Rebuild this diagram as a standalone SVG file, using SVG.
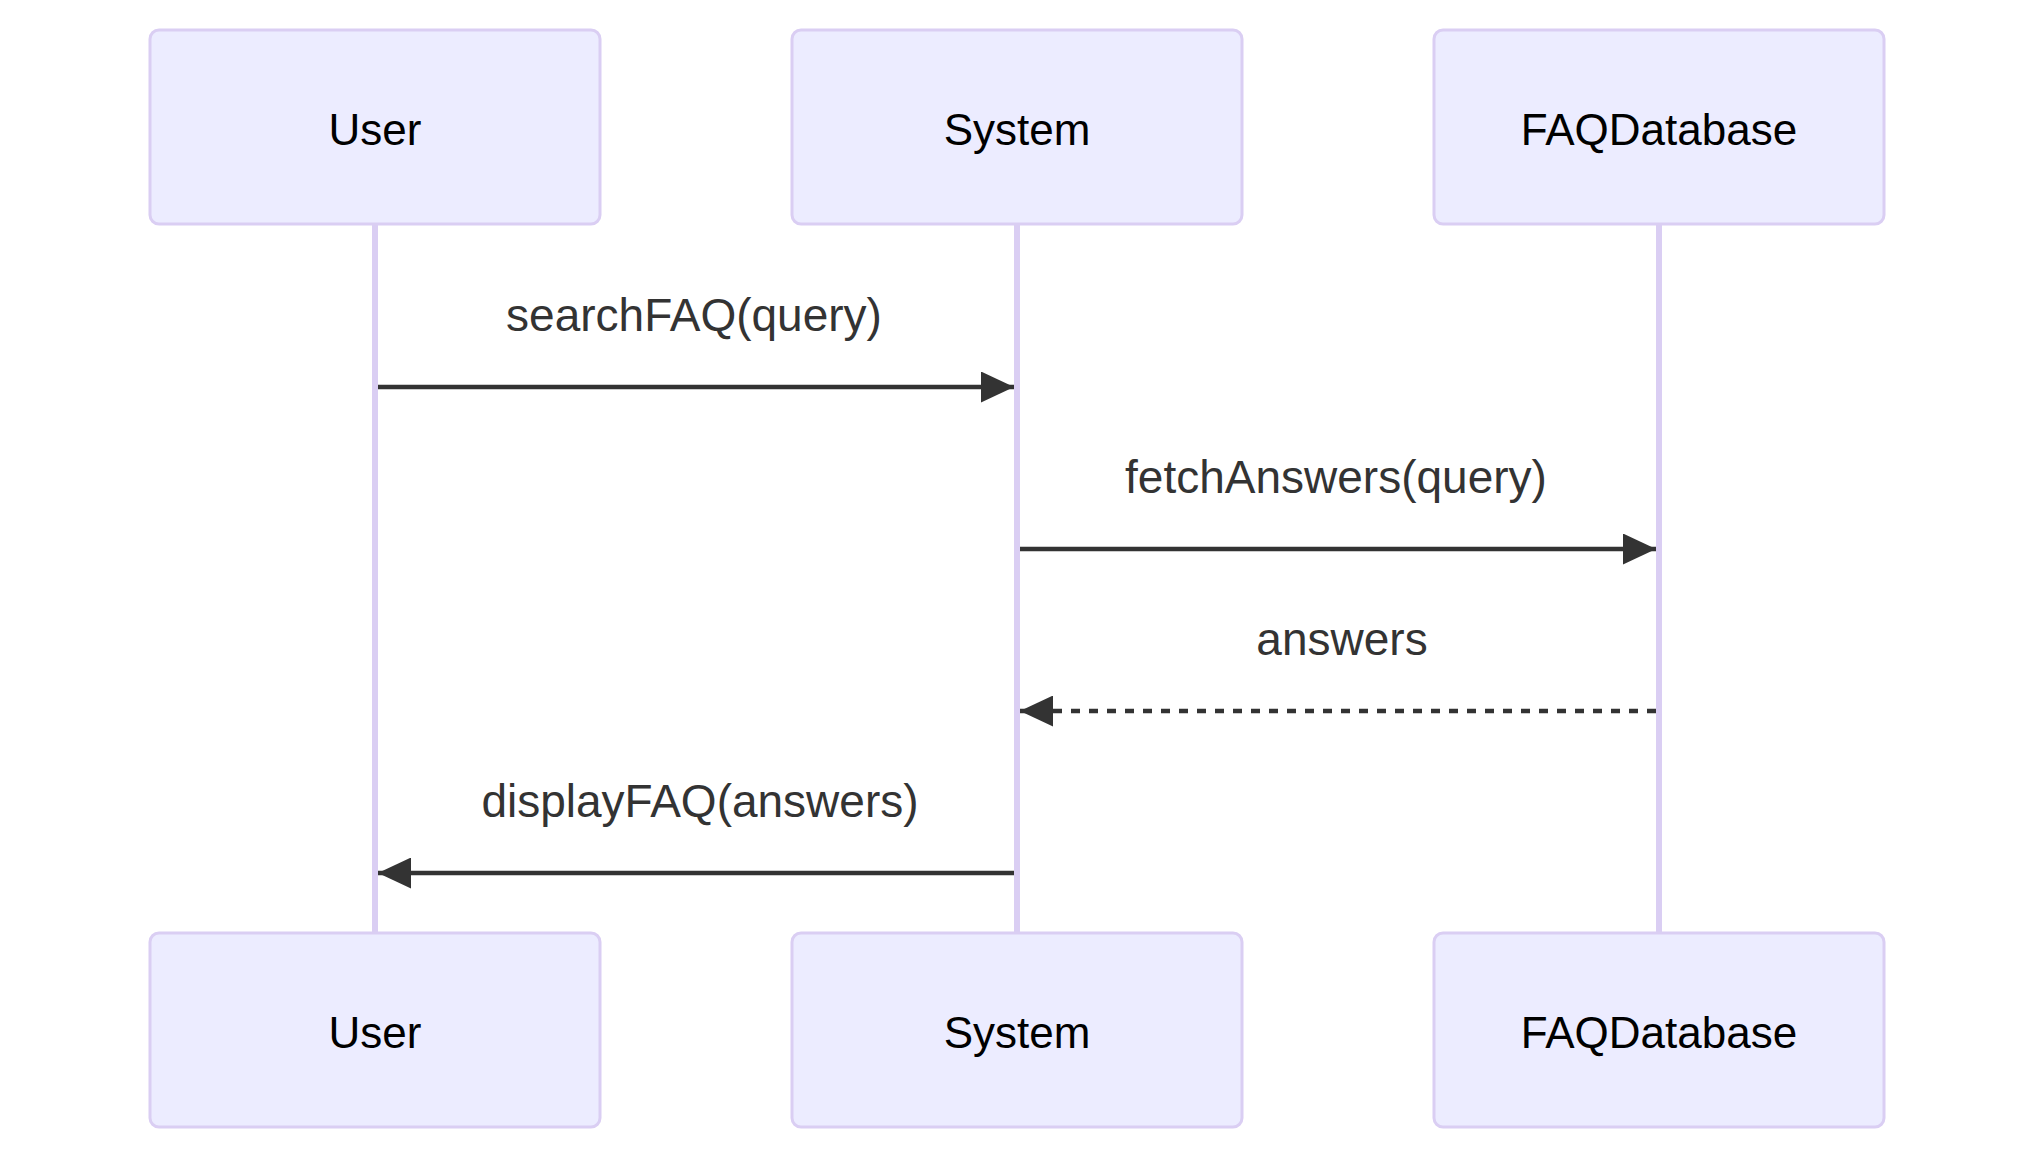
<svg xmlns="http://www.w3.org/2000/svg" width="2034" height="1161" viewBox="0 0 2034 1161">
<style>
.actor rect{fill:#ECECFF;stroke:#DACEF3;stroke-width:3}
.actor text{font-family:"Trebuchet MS","Liberation Sans",Arial,sans-serif;font-size:44px;fill:#000;text-anchor:middle}
.lifeline{stroke:#DACEF3;stroke-width:6}
.msg{stroke:#333;stroke-width:4.5;fill:none;marker-end:url(#arrow)}
.dashed{stroke-dasharray:9 9}
.label{font-family:"Trebuchet MS","Liberation Sans",Arial,sans-serif;font-size:46px;fill:#333;text-anchor:middle}
</style>
<defs>
<marker id="arrow" markerUnits="userSpaceOnUse" viewBox="0 0 33 31" refX="33" refY="15.5" markerWidth="33" markerHeight="31" orient="auto">
<path d="M0 0 L33 15.5 L0 31 Z" fill="#333"/>
</marker>
</defs>
<rect width="2034" height="1161" fill="#fff"/>
<g id="lifelines">
<line class="lifeline" x1="375" y1="224" x2="375" y2="933"/>
<line class="lifeline" x1="1017" y1="224" x2="1017" y2="933"/>
<line class="lifeline" x1="1659" y1="224" x2="1659" y2="933"/>
</g>
<g id="User-top" class="actor"><rect x="150" y="30" width="450" height="194" rx="9"/><text x="375" y="145">User</text></g>
<g id="System-top" class="actor"><rect x="792" y="30" width="450" height="194" rx="9"/><text x="1017" y="145">System</text></g>
<g id="FAQDatabase-top" class="actor"><rect x="1434" y="30" width="450" height="194" rx="9"/><text x="1659" y="145">FAQDatabase</text></g>
<g id="User-bottom" class="actor"><rect x="150" y="933" width="450" height="194" rx="9"/><text x="375" y="1048">User</text></g>
<g id="System-bottom" class="actor"><rect x="792" y="933" width="450" height="194" rx="9"/><text x="1017" y="1048">System</text></g>
<g id="FAQDatabase-bottom" class="actor"><rect x="1434" y="933" width="450" height="194" rx="9"/><text x="1659" y="1048">FAQDatabase</text></g>
<g id="connectors">
<text class="label" x="694" y="331">searchFAQ(query)</text>
<line class="msg" x1="378" y1="387" x2="1014" y2="387"/>
<text class="label" x="1336" y="493">fetchAnswers(query)</text>
<line class="msg" x1="1020" y1="549" x2="1656" y2="549"/>
<text class="label" x="1342" y="655">answers</text>
<line class="msg dashed" x1="1656" y1="711" x2="1020" y2="711"/>
<text class="label" x="700" y="817">displayFAQ(answers)</text>
<line class="msg" x1="1014" y1="873" x2="378" y2="873"/>
</g>
</svg>
